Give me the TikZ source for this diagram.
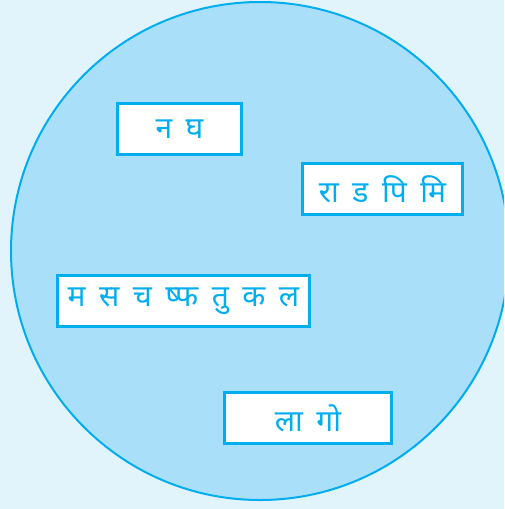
\documentclass[tikz,border=0pt]{standalone}
\usepackage{fontspec}
\newfontfamily\deva[Script=Devanagari]{Noto Sans}
\definecolor{bg}{HTML}{E1F3FB}
\definecolor{cfill}{HTML}{AADFF9}
\definecolor{cline}{HTML}{00AEEF}
\newcommand\gp{\hspace{0.45em}}
\begin{document}
\begin{tikzpicture}[x=1pt,y=-1pt,
  lbl/.style={draw=cline,line width=2.4pt,fill=white,text=cline,minimum height=51pt,inner sep=0pt,font=\deva\fontsize{30}{34}\selectfont}]
\useasboundingbox (0,0) rectangle (504,509);
\fill[bg] (0,0) rectangle (504,509);
\begin{scope}
\clip (0,0) rectangle (504,509);
\draw[cline,fill=cfill,line width=2pt] (260,251) circle[radius=249];
\end{scope}
\node[lbl,minimum width=124pt] (a) at (179.5,129) {न\gp घ};
\node[lbl,minimum width=160pt] (b) at (382.5,189) {रा\gp ड\gp पि\gp मि};
\node[lbl,minimum width=252pt] (c) at (183.5,301) {म\gp स\gp च\gp ष्फ\gp तु\gp क\gp ल};
\node[lbl,minimum width=167pt] (d) at (308,418) {ला\gp गो};
\end{tikzpicture}
\end{document}
